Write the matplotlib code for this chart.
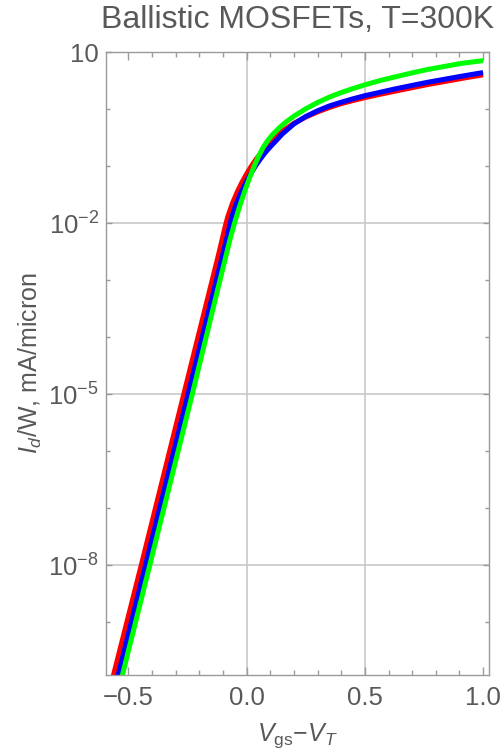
import matplotlib
matplotlib.use('Agg')
import matplotlib.pyplot as plt
import numpy as np
from matplotlib.ticker import FixedLocator, FuncFormatter

# values (x = Vgs - VT in volts, y = log10 of Id/W in mA/micron)
red_v = [-0.58, -0.446, -0.266, -0.15, -0.12, -0.10, -0.089, -0.08, -0.06, -0.04, -0.02,
         0.0, 0.02, 0.04, 0.06, 0.08, 0.10, 0.116, 0.15, 0.2, 0.25, 0.3, 0.35, 0.4,
         0.45, 0.5, 0.56, 0.624, 0.7, 0.766, 0.84, 0.907, 1.0]
red_logI = [-10.2, -8.0, -5.0, -3.07, -2.57, -2.22, -2.03, -1.89, -1.65, -1.455, -1.285,
            -1.135, -1.0, -0.88, -0.772, -0.675, -0.587, -0.52, -0.39, -0.25, -0.14, -0.05, 0.028, 0.095,
            0.15, 0.20, 0.255, 0.31, 0.375, 0.43, 0.485, 0.535, 0.60]

blue_v = [-0.56, -0.428, -0.248, -0.13, -0.10, -0.082, -0.071, -0.063, -0.043, -0.023, -0.003,
          0.017, 0.037, 0.057, 0.077, 0.097, 0.117, 0.15, 0.2, 0.25, 0.3, 0.35, 0.4,
          0.45, 0.5, 0.56, 0.624, 0.7, 0.766, 0.84, 0.907, 1.0]
blue_logI = [-10.2, -8.0, -5.0, -3.03, -2.53, -2.23, -2.03, -1.89, -1.65, -1.455, -1.285,
             -1.135, -1.0, -0.88, -0.772, -0.675, -0.587, -0.44, -0.26, -0.13, -0.03, 0.055, 0.12,
             0.18, 0.235, 0.29, 0.35, 0.415, 0.47, 0.525, 0.575, 0.64]

green_v = [-0.55, -0.41, -0.23, -0.12, -0.07, -0.05, -0.03, -0.01, 0.01, 0.03, 0.05,
           0.07, 0.09, 0.11, 0.14, 0.17, 0.20, 0.25, 0.3, 0.35, 0.4,
           0.45, 0.5, 0.56, 0.624, 0.7, 0.766, 0.84, 0.907, 1.0]
green_logI = [-10.33, -8.0, -5.0, -3.12, -2.28, -1.98, -1.71, -1.46, -1.23, -1.02, -0.83,
              -0.67, -0.545, -0.445, -0.32, -0.215, -0.125, 0.005, 0.115, 0.21, 0.29,
              0.36, 0.425, 0.495, 0.56, 0.635, 0.695, 0.75, 0.80, 0.85]

x_major = [-0.5, 0.0, 0.5, 1.0]
x_minor = [-0.6, -0.4, -0.3, -0.2, -0.1, 0.1, 0.2, 0.3, 0.4, 0.6, 0.7, 0.8, 0.9]
y_labeled = [1e-8, 1e-5, 1e-2, 10]
y_other = [1e-10, 1e-9, 1e-7, 1e-6, 1e-4, 1e-3, 1e-1, 1]

plt.rcParams['font.family'] = ['Liberation Sans', 'DejaVu Sans']
plt.rcParams['mathtext.fontset'] = 'custom'
plt.rcParams['mathtext.rm'] = 'Liberation Sans'
plt.rcParams['mathtext.it'] = 'Liberation Sans:italic'
plt.rcParams['mathtext.bf'] = 'Liberation Sans:bold'

txt = '#595959'
frame = '#9a9a9a'

fig = plt.figure(figsize=(5, 7.54), dpi=100)
ax = fig.add_axes([0.212, 0.105, 0.766, 0.826])

ax.plot(red_v, 10 ** np.array(red_logI), color='#ff0000', lw=3.6, solid_capstyle='butt')
ax.plot(blue_v, 10 ** np.array(blue_logI), color='#0000ff', lw=3.6, solid_capstyle='butt')
ax.plot(green_v, 10 ** np.array(green_logI), color='#00ff00', lw=3.6, solid_capstyle='butt')

ax.set_yscale('log')
ax.set_xlim(-0.595, 1.025)
ax.set_ylim(1.2e-10, 10)

# grid lines
for gx in [0.0, 0.5]:
    ax.axvline(gx, color='#c8c8c8', lw=1.2, zorder=0)
for gy in [1e-8, 1e-5, 1e-2]:
    ax.axhline(gy, color='#c8c8c8', lw=1.2, zorder=0)

ax.xaxis.set_major_locator(FixedLocator(x_major))
ax.xaxis.set_minor_locator(FixedLocator(x_minor))
ax.yaxis.set_major_locator(FixedLocator(y_labeled))
ax.yaxis.set_minor_locator(FixedLocator(y_other))
ax.xaxis.set_major_formatter(FuncFormatter(lambda v, p: ('%.1f' % v).replace('-', '\u2212')))


def ylab(v, p):
    e = int(round(np.log10(v)))
    if e == 1:
        return '10'
    return r'$10^{%d}$' % e


ax.yaxis.set_major_formatter(FuncFormatter(ylab))
ax.yaxis.set_minor_formatter(FuncFormatter(lambda v, p: ''))

ax.tick_params(which='both', direction='in', top=True, right=True, color=frame,
               labelcolor=txt, labelsize=18.5, width=1)
ax.tick_params(axis='x', which='major', length=6, pad=8)
ax.tick_params(axis='x', which='minor', length=3.5)
ax.tick_params(axis='y', which='major', length=4, pad=5)
ax.tick_params(axis='y', which='minor', length=3)

for s in ax.spines.values():
    s.set_color(frame)
    s.set_linewidth(1)

ax.set_title('Ballistic MOSFETs, T=300K', color=txt, fontsize=23, pad=17)
ax.set_xlabel(r'$V_{\rm gs}$$-$$V_T$', color=txt, fontsize=18, labelpad=8)
ax.set_ylabel(r'$I_d$/W, mA/micron', color=txt, fontsize=18, labelpad=3)

fig.savefig('out.png', dpi=100)
